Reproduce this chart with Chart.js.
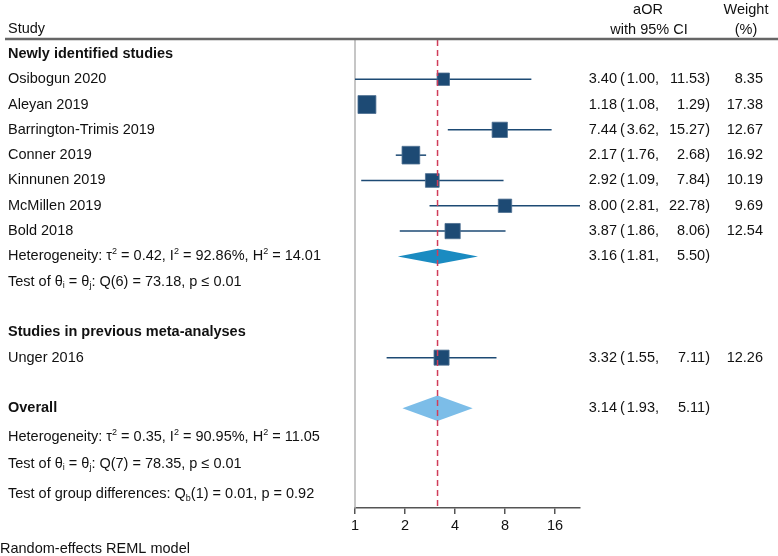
<!DOCTYPE html>
<html>
<head>
<meta charset="utf-8">
<script src="https://cdn.jsdelivr.net/npm/chart.js@4/dist/chart.umd.min.js"></script>
<style>
  body { margin: 0; background: #fff; }
  #graphDiv { width: 778px; height: 556px; position: relative; }
</style>
</head>
<body>
<div id="graphDiv"><canvas id="forestChart"></canvas></div>
<script>
// Etudes individuelles
const studies = ['Osibogun 2020', 'Aleyan 2019', 'Barrington-Trimis 2019', 'Conner 2019',
  'Kinnunen 2019', 'McMillen 2019', 'Bold 2018', 'Unger 2016'];
const aor = [3.40, 1.18, 7.44, 2.17, 2.92, 8.00, 3.87, 3.32];
const lower = [1.00, 1.08, 3.62, 1.76, 1.09, 2.81, 1.86, 1.55];
const upper = [11.53, 1.29, 15.27, 2.68, 7.84, 22.78, 8.06, 7.11];
const weight = [8.35, 17.38, 12.67, 16.92, 10.19, 9.69, 12.54, 12.26];
const studyRows = [1, 2, 3, 4, 5, 6, 7, 12];

// Estimations combinées (sous-groupe, global)
const pooledEst = [3.16, 3.14];
const pooledLow = [1.81, 1.93];
const pooledHigh = [5.50, 5.11];
const pooledRows = [8, 14];

// Ticks de l'axe x
const xTicks = [1, 2, 4, 8, 16];

// Lignes de texte
const groupHeaders = ['Newly identified studies', 'Studies in previous meta-analyses', 'Overall'];
const groupRows = [0, 11, 14];
const statLines = [
  [['Heterogeneity: τ'], ['2', 'sup'], [' = 0.42, I'], ['2', 'sup'], [' = 92.86%, H'], ['2', 'sup'], [' = 14.01']],
  [['Test of θ'], ['i', 'sub'], [' = θ'], ['j', 'sub'], [': Q(6) = 73.18, p ≤ 0.01']],
  [['Heterogeneity: τ'], ['2', 'sup'], [' = 0.35, I'], ['2', 'sup'], [' = 90.95%, H'], ['2', 'sup'], [' = 11.05']],
  [['Test of θ'], ['i', 'sub'], [' = θ'], ['j', 'sub'], [': Q(7) = 78.35, p ≤ 0.01']],
  [['Test of group differences: Q'], ['b', 'sub'], ['(1) = 0.01, p = 0.92']]
];
const statRows = [8, 9, 15.15, 16.2, 17.4];

const yMin = -0.55;
const yMax = 17.94;
const FONT = '"Liberation Sans", Arial, Helvetica, sans-serif';
const SIZE = '14.5px ';
const NAVY = '#1d4a74';

/**
 * Ecrit un texte avec indices / exposants
 */
function drawRich(ctx, parts, x, y) {
  let cx = x;
  for (const [txt, mode] of parts) {
    if (mode === 'sub' || mode === 'sup') {
      ctx.font = '9px ' + FONT;
      const dy = mode === 'sub' ? 4 : -5;
      ctx.fillText(txt, cx, y + dy);
    } else {
      ctx.font = SIZE + FONT;
      ctx.fillText(txt, cx, y);
    }
    cx += ctx.measureText(txt).width;
  }
}

const textPlugin = {
  id: 'forestText',
  beforeDatasetsDraw(chart) {
    const ctx = chart.ctx;
    const area = chart.chartArea;
    ctx.save();
    // Ligne verticale de gauche
    ctx.strokeStyle = '#b3b3b3';
    ctx.lineWidth = 1.5;
    ctx.beginPath();
    ctx.moveTo(area.left, area.top);
    ctx.lineTo(area.left, area.bottom);
    ctx.stroke();
    ctx.restore();
  },
  afterDraw(chart) {
    const ctx = chart.ctx;
    const y = chart.scales.y;
    ctx.save();
    ctx.fillStyle = '#111';
    ctx.textBaseline = 'middle';

    // En-tête
    ctx.font = SIZE + FONT;
    ctx.textAlign = 'left';
    ctx.fillText('Study', 8, 29);
    ctx.textAlign = 'center';
    ctx.fillText('aOR', 648, 10);
    ctx.fillText('with 95% CI', 649, 30);
    ctx.fillText('Weight', 746, 10);
    ctx.fillText('(%)', 746, 30);
    ctx.strokeStyle = '#666';
    ctx.lineWidth = 2.5;
    ctx.beginPath();
    ctx.moveTo(5, 39);
    ctx.lineTo(778, 39);
    ctx.stroke();

    // Titres des groupes
    ctx.textAlign = 'left';
    ctx.font = 'bold ' + SIZE + FONT;
    groupHeaders.forEach((h, i) => ctx.fillText(h, 8, y.getPixelForValue(groupRows[i])));

    // Etudes
    ctx.font = SIZE + FONT;
    const writeCI = (est, lo, hi, row) => {
      const py = y.getPixelForValue(row);
      ctx.textAlign = 'right';
      ctx.fillText(est.toFixed(2), 617, py);
      ctx.textAlign = 'left';
      ctx.fillText('(', 620, py);
      ctx.textAlign = 'right';
      ctx.fillText(lo.toFixed(2) + ',', 659, py);
      ctx.fillText(hi.toFixed(2) + ')', 710, py);
    };
    studies.forEach((s, i) => {
      const py = y.getPixelForValue(studyRows[i]);
      ctx.textAlign = 'left';
      ctx.fillText(s, 8, py);
      writeCI(aor[i], lower[i], upper[i], studyRows[i]);
      ctx.textAlign = 'right';
      ctx.fillText(weight[i].toFixed(2), 763, py);
    });
    pooledEst.forEach((e, i) => writeCI(e, pooledLow[i], pooledHigh[i], pooledRows[i]));

    // Statistiques
    ctx.textAlign = 'left';
    statLines.forEach((parts, i) => drawRich(ctx, parts, 8, y.getPixelForValue(statRows[i])));

    // Pied de page
    ctx.font = SIZE + FONT;
    ctx.fillText('Random-effects REML model', 0, 549);
    ctx.restore();
  }
};

// Construction des datasets
const datasets = [];

// Ligne de référence (estimation globale)
datasets.push({
  data: [{x: pooledEst[1], y: yMin}, {x: pooledEst[1], y: yMax}],
  showLine: true, pointRadius: 0, borderColor: '#d03c5a', borderWidth: 1.5,
  borderDash: [6, 4], order: 0
});

// Intervalles de confiance
studies.forEach((s, i) => {
  datasets.push({
    data: [{x: lower[i], y: studyRows[i]}, {x: upper[i], y: studyRows[i]}],
    showLine: true, pointRadius: 0, borderColor: NAVY, borderWidth: 1.5, order: 3
  });
});

// Carrés pondérés
datasets.push({
  data: aor.map((v, i) => ({x: v, y: studyRows[i]})),
  pointStyle: 'rect',
  pointRadius: weight.map(w => 4.3 * Math.sqrt(w) / Math.SQRT2),
  backgroundColor: NAVY, borderColor: '#4d6f90', borderWidth: 0.8, order: 2
});

// Losanges
const diamondColors = ['#1a8bc1', '#7cbde8'];
const diamondHalf = [0.3, 0.5];
pooledEst.forEach((e, i) => {
  const r = pooledRows[i], h = diamondHalf[i];
  datasets.push({
    data: [{x: pooledLow[i], y: r}, {x: e, y: r - h}, {x: pooledHigh[i], y: r}, {x: e, y: r + h}, {x: pooledLow[i], y: r}],
    showLine: true, pointRadius: 0, borderWidth: 0, borderColor: diamondColors[i],
    backgroundColor: diamondColors[i], fill: 'shape', tension: 0, order: 1
  });
});

const ctx = document.getElementById('forestChart').getContext('2d');
new Chart(ctx, {
  type: 'scatter',
  data: { datasets: datasets },
  options: {
    responsive: true,
    maintainAspectRatio: false,
    animation: false,
    layout: { padding: { left: 355, right: 198, top: 40, bottom: 18 } },
    plugins: { legend: { display: false }, tooltip: { enabled: false } },
    scales: {
      x: {
        type: 'logarithmic',
        min: 1,
        max: Math.pow(2, 4.5),
        afterBuildTicks: axis => { axis.ticks = xTicks.map(v => ({value: v})); },
        afterFit: axis => { axis.height = 30; },
        ticks: { color: '#111', font: { size: 14.5, family: FONT }, padding: 3, callback: v => String(v), autoSkip: false, maxRotation: 0 },
        grid: { display: true, drawOnChartArea: false, drawTicks: true, tickLength: 6, color: '#555', lineWidth: 1.5 },
        border: { display: true, color: '#555', width: 1.5 }
      },
      y: {
        display: false,
        reverse: true,
        min: yMin,
        max: yMax
      }
    }
  },
  plugins: [textPlugin]
});
</script>
</body>
</html>
